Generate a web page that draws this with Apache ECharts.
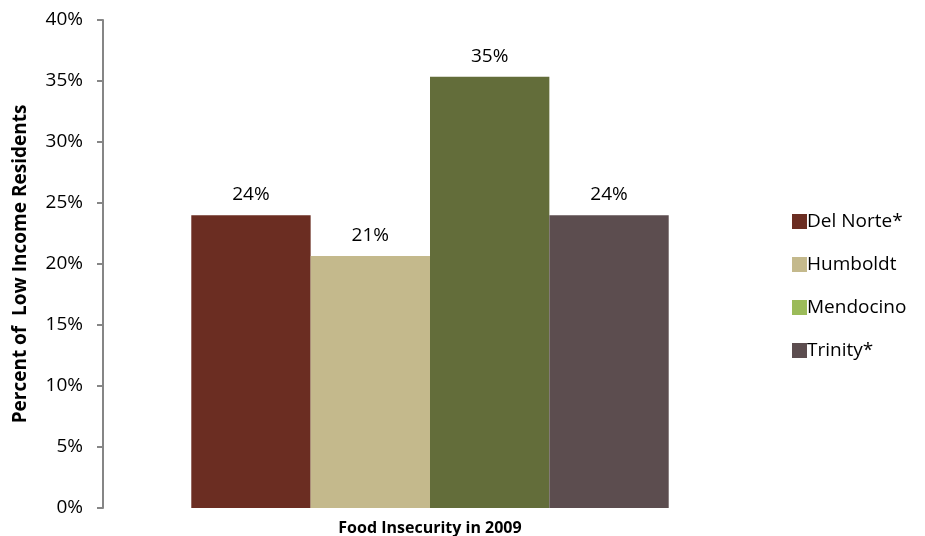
<!DOCTYPE html>
<html><head><meta charset="utf-8">
<script src="https://cdn.jsdelivr.net/npm/echarts@6/dist/echarts.min.js"></script>
<style>html,body{margin:0;padding:0;background:#fff}#c{width:925px;height:536px}</style>
</head><body><div id="c"></div>
<script>
const categories = ['Food Insecurity in 2009'];
const seriesNames = ['Del Norte*', 'Humboldt', 'Mendocino', 'Trinity*'];
const seriesValues = [[24.0], [20.65], [35.35], [24.0]];
const barColors = ['#6B2D22', '#C4B98C', '#636D3A', '#5C4D4F'];
const legendColors = ['#6B2D22', '#C4B98C', '#9BBB59', '#5C4D4F'];
const yTicks = [0, 5, 10, 15, 20, 25, 30, 35, 40];

const font = '"Open Sans", sans-serif';
const chart = echarts.init(document.getElementById('c'), null, {renderer: 'canvas'});
chart.setOption({
  animation: false,
  textStyle: {fontFamily: font},
  grid: {left: 103, right: 168, top: 20, bottom: 28},
  legend: {
    orient: 'vertical', left: 787, top: 207, itemGap: 24,
    itemWidth: 15, itemHeight: 15, icon: 'rect',
    textStyle: {fontSize: 19, color: '#000', fontFamily: font, padding: [0, 0, 0, -5]},
    data: seriesNames.map((n, i) => ({name: n, itemStyle: {color: legendColors[i]}}))
  },
  xAxis: {
    type: 'category', data: categories,
    axisLine: {show: false}, axisTick: {show: false},
    axisLabel: {fontSize: 16, fontWeight: 'bold', color: '#000', margin: 12, fontFamily: font}
  },
  yAxis: {
    type: 'value', min: yTicks[0], max: yTicks[yTicks.length - 1], interval: 5,
    name: 'Percent of  Low Income Residents', nameLocation: 'middle', nameGap: 73,
    nameTextStyle: {fontSize: 19, fontWeight: 'bold', color: '#000', fontFamily: font},
    axisLine: {show: true, lineStyle: {color: '#868686', width: 2}},
    axisTick: {show: true, length: 6, lineStyle: {color: '#868686', width: 2}},
    splitLine: {show: false},
    axisLabel: {fontSize: 19, color: '#000', margin: 20, formatter: v => v + '%', fontFamily: font}
  },
  series: seriesNames.map((n, i) => ({
    name: n, type: 'bar', data: seriesValues[i],
    barGap: '0%', barCategoryGap: '27%',
    itemStyle: {color: barColors[i]},
    label: {show: true, position: 'top', distance: 11, fontSize: 19, color: '#000', fontFamily: font,
      formatter: p => Math.round(p.value) + '%'}
  }))
});
</script></body></html>
